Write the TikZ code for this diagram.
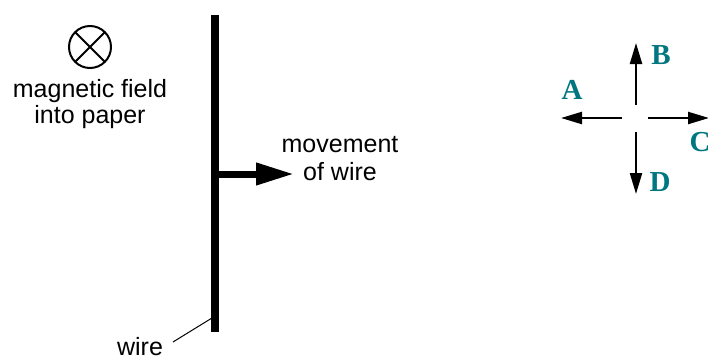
\documentclass[tikz,border=0pt]{standalone}
\usepackage{fontspec}
\newfontfamily\labelsans{Liberation Sans}
\newfontfamily\letserif{Liberation Serif}
\usetikzlibrary{arrows.meta,calc}
\definecolor{letteal}{RGB}{0,118,128}
\tikzset{
  lab/.style={font=\labelsans\fontsize{25}{27}\selectfont, align=center, inner sep=0pt},
  dirlet/.style={font=\letserif\bfseries\fontsize{29}{30}\selectfont, text=letteal, inner sep=0pt},
  dirarrow/.style={line width=2.3pt, -{Triangle[length=21pt,width=12pt]}},
  wireline/.style={line width=8pt},
  movearrow/.style={line width=7pt, -{Triangle[length=38pt,width=21pt]}},
}
\begin{document}
\begin{tikzpicture}[x=1pt,y=-1pt]
\useasboundingbox (0,0) rectangle (708,356);
% magnetic field symbol
\coordinate (fc) at (90,47);
\draw[line width=2pt] (fc) circle (21);
\draw[line width=2pt] ($(fc)+(-14.85,-14.85)$) -- ($(fc)+(14.85,14.85)$);
\draw[line width=2pt] ($(fc)+(-14.85,14.85)$) -- ($(fc)+(14.85,-14.85)$);
\node[lab, anchor=base] (field) at (90,123) {magnetic field\\[-1pt]into paper};
% wire
\coordinate (wtop) at (215,15);
\coordinate (wbot) at (215,332);
\draw[wireline] (wtop) -- (wbot);
% movement arrow
\coordinate (mstart) at (215,174);
\coordinate (mtip) at (294,174);
\draw[movearrow] (mstart) -- (mtip);
\node[lab, anchor=base] (move) at (340,180) {movement\\[1pt]of wire};
% wire label
\node[lab, anchor=base] (wlab) at (140,355) {wire};
\coordinate (lstart) at (173,342);
\coordinate (lend) at (212,318);
\draw[line width=1pt] (lstart) -- (lend);
% direction cross
\coordinate (upS) at (636,105);
\coordinate (upE) at (636,43);
\coordinate (lfS) at (622,118);
\coordinate (lfE) at (561,118);
\coordinate (rtS) at (648,118);
\coordinate (rtE) at (709,118);
\coordinate (dnS) at (636,132);
\coordinate (dnE) at (636,194);
\draw[dirarrow] (upS) -- (upE);
\draw[dirarrow] (lfS) -- (lfE);
\draw[dirarrow] (rtS) -- (rtE);
\draw[dirarrow] (dnS) -- (dnE);
\node[dirlet] (B) at (661,55) {B};
\node[dirlet] (A) at (572,90) {A};
\node[dirlet] (C) at (700,142) {C};
\node[dirlet] (D) at (660,182) {D};
\end{tikzpicture}
\end{document}
